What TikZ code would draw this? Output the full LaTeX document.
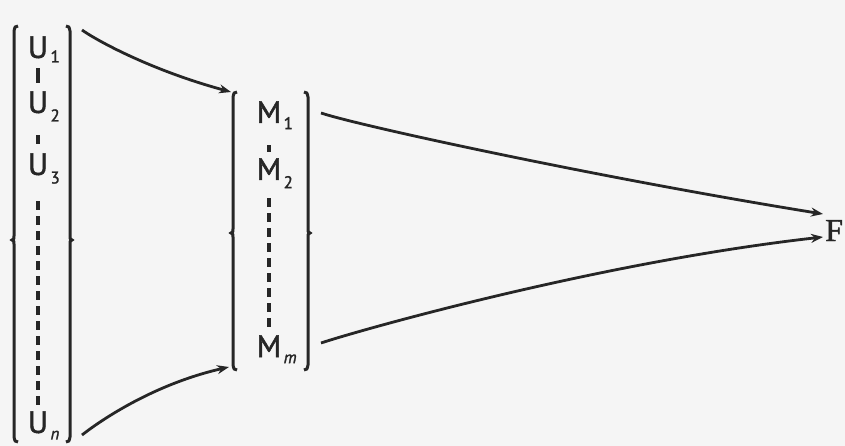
\documentclass[tikz,border=0pt]{standalone}
\usepackage{fontspec}
\setmainfont{PT Sans}[FakeBold=1.2]
\newfontfamily\letterfont{PT Sans}[FakeBold=1.6]
\newfontfamily\serifF{Liberation Serif}[FakeBold=1.5]
\usetikzlibrary{arrows.meta}
% brace: #1 x, #2 top, #3 middle, #4 bottom, #5 direction (+1 left brace, -1 right brace)
\newcommand{\mybrace}[5]{%
  \draw[bracestyle] ({#1+4*#5},#2) .. controls ({#1+1*#5},{#2+0.5}) .. (#1,{#2+5})
    -- (#1,{#3-4}) .. controls (#1,{#3-1}) .. ({#1-2*#5},#3)
    .. controls (#1,{#3+1}) .. (#1,{#3+4})
    -- (#1,{#4-5}) .. controls ({#1+1*#5},{#4-0.5}) .. ({#1+4*#5},#4);}
\begin{document}
\begin{tikzpicture}[x=1pt,y=-1pt,
  ink/.style={draw=black!85, line width=3pt},
  letter/.style={inner sep=0pt, anchor=base, font=\fontsize{31}{31}\letterfont, text=black!85},
  sub/.style={inner sep=0pt, anchor=base west, font=\fontsize{17}{17}\letterfont, text=black!85},
  bracestyle/.style={draw=black!85, line width=3pt},
  arr/.style={ink, line width=2.8pt, -{Stealth[length=12pt,width=9pt]}},
  dashline/.style={ink, line width=3.2pt, dash pattern=on 9pt off 6pt}
]
\fill[black!4] (0,0) rectangle (845,446);
\useasboundingbox (0,0) rectangle (845,446);

% U column
\node[letter] (U1) at (38,58) {U};
\node[letter] (U2) at (38,113) {U};
\node[letter] (U3) at (38,175) {U};
\node[letter] (Un) at (38,433) {U};
\node[sub] (s1) at ([xshift=2pt,yshift=-4pt]U1.south east) {1};
\node[sub] (s2) at ([xshift=2pt,yshift=-8pt]U2.south east) {2};
\node[sub] (s3) at ([xshift=2pt,yshift=-8pt]U3.south east) {3};
\node[sub] (sn) at ([xshift=2pt,yshift=-6pt]Un.south east) {\itshape n};

\draw[ink, line width=3.2pt] ([yshift=-10pt]U1.south) -- ([yshift=8pt]U2.north);
\draw[ink, line width=3.2pt] ([yshift=-22pt]U2.south) -- ([yshift=9pt]U3.north);
\draw[dashline] ([yshift=-26pt]U3.south) -- ([yshift=6pt]Un.north);

% M column
\node[letter] (M1) at (269,123) {M};
\node[letter] (M2) at (269,180) {M};
\node[letter] (Mm) at (269,357) {M};
\node[sub] (t1) at ([xshift=2pt,yshift=-6pt]M1.south east) {1};
\node[sub] (t2) at ([xshift=2pt,yshift=-8pt]M2.south east) {2};
\node[sub] (tm) at ([xshift=2pt,yshift=-6pt]Mm.south east) {\itshape m};

\draw[ink, line width=3.2pt] ([yshift=-22pt]M1.south) -- ([yshift=6pt]M2.north);
\draw[dashline] ([yshift=-18pt]M2.south) -- ([yshift=5pt]Mm.north);

% braces
\mybrace{14}{26}{240}{442}{1}
\mybrace{70}{26}{240}{442}{-1}
\mybrace{233}{92}{233}{370}{1}
\mybrace{308}{92}{233}{370}{-1}

% F
\node[inner sep=0pt, anchor=base west, font=\fontsize{32}{32}\serifF, text=black!85] (F) at (825,241) {F};

% arrows
\coordinate (a1) at (82,30);
\coordinate (b1) at (231,92);
\coordinate (a2) at (82,435);
\coordinate (b2) at (229,367);
\coordinate (c1) at (321,113);
\coordinate (c2) at (321,343);
\coordinate (f1) at (823,214);
\coordinate (f2) at (823,237);
\draw[arr] (a1) .. controls (96,40) and (150,70) .. (b1);
\draw[arr] (a2) .. controls (96,424) and (150,385) .. (b2);
\draw[arr] (c1) .. controls (360,126) and (600,178) .. (f1);
\draw[arr] (c2) .. controls (360,330) and (600,262) .. (f2);
\end{tikzpicture}
\end{document}
